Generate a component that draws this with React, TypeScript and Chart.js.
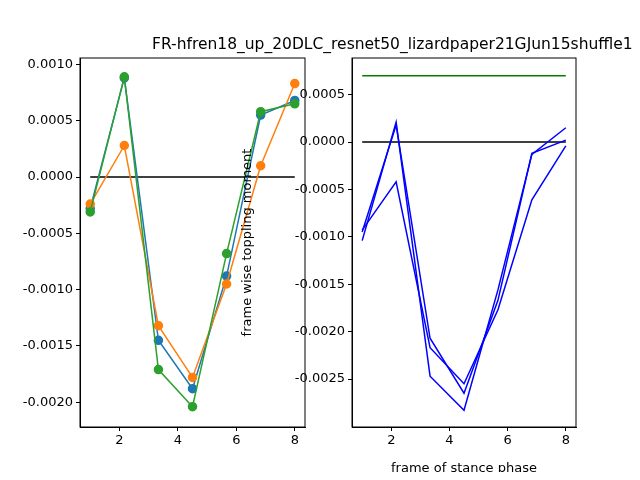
import React, { useEffect, useRef } from 'react';
import { Chart, registerables } from 'chart.js';

Chart.register(...registerables);

const frames = [1, 2.1667, 3.3333, 4.5, 5.6667, 6.8333, 8];
const seriesBlue = [-0.00028, 0.00088, -0.00145, -0.00188, -0.00088, 0.00055, 0.00068];
const seriesOrange = [-0.00024, 0.00028, -0.00132, -0.00178, -0.00095, 0.0001, 0.00083];
const seriesGreen = [-0.00031, 0.00089, -0.00171, -0.00204, -0.00068, 0.00058, 0.00065];
const rightA = [-0.00104, 0.00021, -0.00247, -0.00283, -0.00156, -0.00013, 0.00015];
const rightB = [-0.00095, 0.00018, -0.00207, -0.00265, -0.00167, -0.00012, 0.00002];
const rightC = [-0.00093, -0.00042, -0.00217, -0.00255, -0.00177, -0.00061, -0.00004];
const greenLevel = 0.0007;
const xTicks = [2, 4, 6, 8];
const leftYTicks = [-0.002, -0.0015, -0.001, -0.0005, 0, 0.0005, 0.001];
const rightYTicks = [-0.0025, -0.002, -0.0015, -0.001, -0.0005, 0, 0.0005];

const font = { family: 'DejaVu Sans', size: 13 };
const pts = (ys: number[]) => ys.map((y, i) => ({ x: frames[i], y }));
const hline = (y: number) => [{ x: 1, y }, { x: 8, y }];

const frame = {
  id: 'frame',
  afterDraw(c: any) {
    const { left, top, right, bottom } = c.chartArea;
    const ctx = c.ctx;
    ctx.save();
    ctx.strokeStyle = '#000';
    ctx.lineWidth = 1;
    ctx.strokeRect(left, top, right - left, bottom - top);
    ctx.restore();
  },
};

function makeOptions(ymin: number, ymax: number, yTicks: number[], yw: number, padRight: number, titles: boolean): any {
  return {
    animation: false,
    responsive: false,
    layout: { padding: { top: 58, right: padRight, left: 0, bottom: 0 } },
    plugins: { legend: { display: false }, tooltip: { enabled: false } },
    scales: {
      x: {
        type: 'linear',
        min: 0.65,
        max: 8.35,
        grid: { display: true, drawOnChartArea: false, drawTicks: true, tickLength: 4, color: '#000' },
        border: { color: '#000' },
        afterBuildTicks: (s: any) => { s.ticks = xTicks.map((v) => ({ value: v })); },
        afterFit: (s: any) => { s.height = 53; },
        ticks: { color: '#000', font, maxRotation: 0, padding: 2, callback: (v: any) => String(v) },
        title: { display: titles, text: 'frame of stance phase', color: '#000', font: { family: 'DejaVu Sans', size: 13 }, padding: { top: 0 } },
      },
      y: {
        type: 'linear',
        min: ymin,
        max: ymax,
        grid: { display: true, drawOnChartArea: false, tickLength: 4, color: '#000' },
        border: { color: '#000' },
        afterBuildTicks: (s: any) => { s.ticks = yTicks.map((v) => ({ value: v })); },
        afterFit: (s: any) => { s.width = yw; },
        ticks: { color: '#000', font, padding: 3, callback: (v: any) => Number(v).toFixed(4) },
        title: { display: titles, text: 'frame wise toppling moment', color: '#000', font: { family: 'DejaVu Sans', size: 13 }, padding: { top: 0, bottom: 0 } },
      },
    },
  };
}

const line = (data: any[], color: string, dots: boolean) => ({
  data,
  borderColor: color,
  backgroundColor: color,
  borderWidth: 1.5,
  pointRadius: dots ? 4 : 0,
  showLine: true,
  tension: 0,
});

export default function App() {
  const leftRef = useRef<HTMLCanvasElement>(null);
  const rightRef = useRef<HTMLCanvasElement>(null);

  useEffect(() => {
    // Chart.js paints the first dataset on top, so list them top-most first
    const left = new Chart(leftRef.current!, {
      type: 'scatter',
      data: {
        datasets: [
          line(pts(seriesGreen), '#2ca02c', true),
          line(pts(seriesOrange), '#ff7f0e', true),
          line(pts(seriesBlue), '#1f77b4', true),
          line(hline(0), '#000000', false),
        ],
      },
      options: makeOptions(-0.00222, 0.001057, leftYTicks, 80, 15, false),
      plugins: [frame],
    });
    const right = new Chart(rightRef.current!, {
      type: 'scatter',
      data: {
        datasets: [
          line(pts(rightC), '#0000ff', false),
          line(pts(rightB), '#0000ff', false),
          line(pts(rightA), '#0000ff', false),
          line(hline(greenLevel), '#008000', false),
          line(hline(0), '#000000', false),
        ],
      },
      options: makeOptions(-0.003006, 0.000886, rightYTicks, 112, 64, true),
      plugins: [frame],
    });
    return () => { left.destroy(); right.destroy(); };
  }, []);

  return (
    <div style={{ position: 'relative', width: 640, height: 480, margin: -8, overflow: 'hidden', background: '#fff' }}>
      <canvas ref={leftRef} width={320} height={480} style={{ position: 'absolute', left: 0, top: 0 }} />
      <canvas ref={rightRef} width={400} height={480} style={{ position: 'absolute', left: 240, top: 0 }} />
      <div style={{ position: 'absolute', left: 152, top: 35, fontFamily: 'DejaVu Sans', fontSize: 15.5, whiteSpace: 'nowrap' }}>
        FR-hfren18_up_20DLC_resnet50_lizardpaper21GJun15shuffle1
      </div>
    </div>
  );
}
